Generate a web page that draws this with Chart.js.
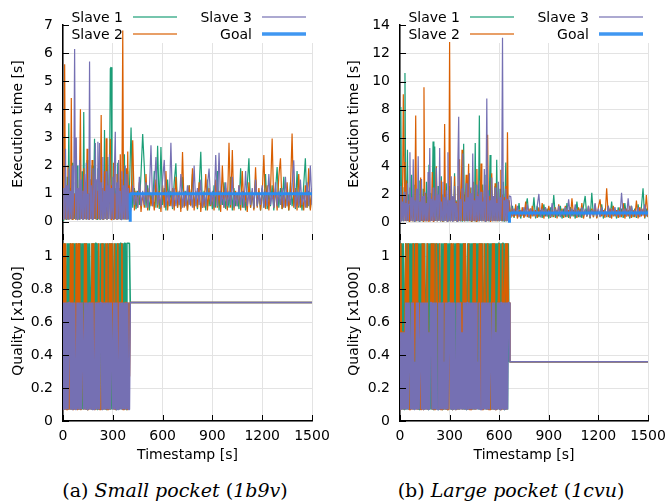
<!DOCTYPE html>
<html>
<head>
<meta charset="utf-8">
<script src="https://cdn.jsdelivr.net/npm/chart.js@4.4.1/dist/chart.umd.min.js"></script>
<style>
  body { margin: 0; background: #fff; }
  #wrap { position: relative; width: 669px; height: 502px; overflow: hidden; }
  canvas { position: absolute; }
  .cap { position: absolute; top: 478px; width: 320px; text-align: center; font-family: "DejaVu Serif", serif; font-size: 19px; color: #000; line-height: 24px; }
  .cap i { font-style: italic; }
</style>
</head>
<body>
<div id="wrap">
  <canvas id="timeA" width="335" height="240" style="left:0;top:0"></canvas>
  <canvas id="qualA" width="335" height="232" style="left:0;top:240px"></canvas>
  <canvas id="timeB" width="334" height="240" style="left:335px;top:0"></canvas>
  <canvas id="qualB" width="334" height="232" style="left:335px;top:240px"></canvas>
  <div class="cap" style="left:15px">(a) <i>Small pocket</i> (<i>1b9v</i>)</div>
  <div class="cap" style="left:351px">(b) <i>Large pocket</i> (<i>1cvu</i>)</div>
</div>
<script>
// series names (legend order: Slave 1, Slave 2, Slave 3, Goal)
const seriesNames = ["Slave 1", "Slave 2", "Slave 3", "Goal"];

// axis ticks
const xTicks = [0, 300, 600, 900, 1200, 1500];
const yTicksTimeA = [0, 1, 2, 3, 4, 5, 6, 7];
const yTicksTimeB = [0, 2, 4, 6, 8, 10, 12, 14];
const yTicksQuality = [0, 0.2, 0.4, 0.6, 0.8, 1];

// ---------- (a) small pocket ----------
const timeExploreA = [
  0, 5, 10, 15, 20, 25, 30, 35, 40, 45, 50, 55, 60, 65, 70, 75, 80, 85, 90, 95,
  100, 105, 110, 115, 120, 125, 130, 135, 140, 145, 150, 155, 160, 165, 170, 175, 180, 185, 190, 195,
  200, 205, 210, 215, 220, 225, 230, 235, 240, 245, 250, 255, 260, 265, 270, 275, 280, 285, 290, 295,
  300, 305, 310, 315, 320, 325, 330, 335, 340, 345, 350, 355, 360, 365, 370, 375, 380, 385, 390, 395,
  400
];
const timeRunA = [
  410, 420, 430, 440, 450, 460, 470, 480, 490, 500,
  510, 520, 530, 540, 550, 560, 570, 580, 590, 600,
  610, 620, 630, 640, 650, 660, 670, 680, 690, 700,
  710, 720, 730, 740, 750, 760, 770, 780, 790, 800,
  810, 820, 830, 840, 850, 860, 870, 880, 890, 900,
  910, 920, 930, 940, 950, 960, 970, 980, 990, 1000,
  1010, 1020, 1030, 1040, 1050, 1060, 1070, 1080, 1090, 1100,
  1110, 1120, 1130, 1140, 1150, 1160, 1170, 1180, 1190, 1200,
  1210, 1220, 1230, 1240, 1250, 1260, 1270, 1280, 1290, 1300,
  1310, 1320, 1330, 1340, 1350, 1360, 1370, 1380, 1390, 1400,
  1410, 1420, 1430, 1440, 1450, 1460, 1470, 1480, 1490, 1500
];

const slave1ExploreA = [
  0.05, 1.0, 0.1, 0.9, 0.06, 1.6, 0.1, 3.5, 0.08, 1.2,
  0.1, 2.1, 0.07, 1.0, 0.1, 1.4, 0.08, 2.0, 0.1, 1.1,
  0.07, 1.3, 0.1, 1.8, 0.08, 3.9, 0.1, 1.2, 0.07, 2.2,
  0.1, 1.0, 0.08, 1.5, 0.1, 2.0, 0.07, 1.2, 2.95, 0.1,
  1.3, 0.08, 1.9, 0.1, 1.1, 0.07, 1.6, 0.1, 1.2, 0.08,
  3.26, 0.1, 1.4, 0.07, 2.3, 0.1, 1.1, 5.45, 5.5, 0.1,
  1.3, 0.07, 1.7, 0.1, 1.2, 0.08, 2.1, 0.1, 1.0, 0.07,
  1.5, 0.1, 1.2, 0.08, 2.4, 0.1, 1.3, 0.07, 1.8, 0.1,
  1.1
];
const slave2ExploreA = [
  0.1, 0.9, 5.6, 0.08, 1.3, 0.1, 2.0, 0.07, 1.1, 0.1,
  4.4, 0.08, 1.5, 0.1, 1.0, 0.07, 2.3, 0.1, 1.2, 0.08,
  1.6, 4.0, 0.1, 1.1, 0.07, 1.9, 0.1, 1.3, 0.08, 2.6,
  0.1, 1.0, 0.07, 1.5, 0.1, 2.2, 0.08, 1.2, 0.1, 1.7,
  0.07, 1.1, 0.1, 2.0, 0.08, 1.3, 3.8, 0.1, 1.2, 0.07,
  1.8, 0.1, 2.97, 0.08, 1.1, 0.1, 1.6, 2.95, 0.07, 1.3,
  0.1, 2.1, 0.08, 1.0, 0.1, 1.7, 0.07, 1.2, 0.1, 2.4,
  0.08, 1.4, 6.8, 0.1, 1.1, 0.07, 1.9, 0.1, 2.5, 0.08,
  1.3
];
const slave3ExploreA = [
  0.1, 1.2, 0.08, 2.6, 0.1, 1.3, 0.06, 1.9, 0.1, 1.1,
  0.08, 2.0, 0.1, 1.4, 6.15, 0.1, 3.0, 0.07, 1.2, 0.1,
  2.2, 0.08, 1.5, 0.1, 1.1, 0.07, 1.7, 0.1, 2.1, 0.1,
  1.0, 0.06, 5.7, 0.1, 1.3, 0.08, 1.9, 0.1, 1.2, 2.8,
  0.09, 1.5, 2.85, 0.1, 2.8, 0.07, 1.4, 0.1, 2.3, 0.08,
  1.1, 0.1, 1.8, 0.07, 1.3, 0.1, 2.4, 0.08, 1.2, 0.1,
  1.6, 0.07, 2.0, 3.2, 0.1, 1.4, 0.08, 2.2, 0.1, 1.1,
  0.07, 1.8, 0.1, 1.3, 0.08, 2.0, 0.1, 1.7, 0.08, 1.2,
  0.1
];
const slave1RunA = [
  3.35, 0.5, 1.2, 0.45, 1.1, 0.6, 1.7, 3.12, 1.95, 0.5,
  1.3, 0.4, 1.0, 0.55, 1.8, 0.5, 2.7, 0.45, 2.66, 0.6,
  1.2, 0.4, 1.5, 0.55, 1.1, 0.45, 1.4, 2.08, 0.5, 1.0,
  0.45, 1.6, 0.55, 1.1, 0.4, 1.3, 0.6, 1.7, 0.5, 1.0,
  0.45, 1.2, 2.49, 0.5, 1.1, 0.4, 1.5, 0.55, 1.0, 0.45,
  1.3, 0.5, 1.8, 0.4, 1.1, 0.6, 1.4, 0.45, 1.0, 0.5,
  1.6, 0.4, 1.2, 0.55, 1.0, 0.45, 1.9, 0.5, 1.1, 0.4,
  1.3, 2.26, 0.5, 1.0, 0.45, 1.5, 0.55, 1.1, 0.4, 1.2,
  0.5, 1.7, 0.45, 1.0, 0.55, 1.3, 0.4, 1.1, 1.95, 0.5,
  1.2, 0.45, 1.6, 0.5, 1.0, 0.4, 1.4, 0.55, 1.1, 0.45,
  1.8, 0.5, 1.0, 0.4, 1.3, 2.26, 0.5, 1.1, 0.45, 1.2
];
const slave2RunA = [
  0.6, 2.9, 0.4, 1.1, 0.5, 1.4, 0.35, 1.0, 0.5, 1.7,
  0.4, 1.2, 0.55, 1.0, 0.4, 1.5, 0.5, 1.1, 0.35, 1.3,
  0.5, 1.8, 0.4, 1.0, 0.55, 1.2, 0.4, 1.6, 0.5, 1.1,
  0.35, 2.48, 0.5, 1.0, 0.4, 1.3, 0.55, 1.9, 0.4, 1.1,
  0.5, 1.4, 0.35, 1.0, 0.5, 1.7, 0.4, 1.2, 0.55, 1.0,
  0.4, 1.5, 0.5, 1.1, 0.35, 2.0, 0.5, 1.2, 0.4, 2.81,
  0.5, 2.55, 0.4, 1.1, 0.55, 1.3, 0.4, 1.8, 0.5, 1.0,
  0.35, 1.4, 0.5, 1.1, 0.4, 1.94, 0.5, 1.2, 0.4, 1.0,
  2.37, 0.45, 1.3, 0.4, 1.1, 2.96, 0.5, 1.2, 0.4, 1.6,
  2.26, 0.45, 1.0, 0.5, 1.4, 0.4, 1.1, 3.14, 0.5, 1.2,
  0.4, 1.7, 0.5, 1.0, 0.4, 1.3, 0.5, 1.9, 0.4, 1.1
];
const slave3RunA = [
  0.5, 1.3, 0.6, 1.0, 0.5, 1.6, 0.55, 1.1, 0.6, 1.4,
  0.5, 1.0, 2.72, 0.55, 1.2, 2.3, 0.6, 1.0, 0.5, 1.5,
  2.2, 0.55, 1.1, 0.6, 2.81, 0.5, 1.2, 0.55, 1.0, 0.6,
  1.7, 0.5, 1.1, 0.55, 1.3, 0.6, 1.0, 0.5, 2.0, 0.55,
  1.2, 0.6, 1.5, 0.5, 1.0, 0.55, 1.3, 1.89, 0.6, 1.1,
  0.5, 2.37, 0.55, 2.45, 0.6, 1.0, 0.5, 1.4, 0.55, 1.1,
  0.6, 1.6, 0.5, 1.0, 0.55, 1.3, 0.6, 1.1, 0.5, 1.8,
  0.55, 1.0, 0.6, 1.2, 0.5, 1.5, 0.55, 1.0, 0.6, 1.3,
  0.5, 1.1, 0.55, 1.7, 0.6, 1.0, 0.5, 1.4, 0.55, 1.1,
  0.6, 1.2, 0.5, 1.6, 0.55, 1.0, 0.6, 1.3, 2.19, 0.5,
  1.1, 0.55, 1.5, 0.6, 1.0, 0.5, 1.4, 0.55, 2.0, 0.6
];
const goalTimesA = [405, 405, 1500];
const goalA = [0, 1, 1];

const quality1A = [
  1.08, 0.07, 1.08, 0.07, 0.72, 1.08, 0.07, 1.08, 0.07, 1.08,
  0.07, 0.72, 1.08, 0.07, 1.08, 0.07, 1.08, 0.72, 0.07, 1.08,
  0.07, 1.08, 0.07, 1.08, 0.07, 0.72, 1.08, 0.07, 1.08, 0.07,
  1.08, 0.07, 1.08, 0.72, 0.07, 1.08, 0.07, 1.08, 0.07, 1.08,
  1.08, 0.07, 1.08, 0.07, 0.72, 1.08, 0.07, 1.08, 0.07, 1.08,
  0.07, 1.08, 0.07, 0.72, 1.08, 0.07, 1.08, 0.07, 1.08, 0.07,
  1.08, 0.72, 0.07, 1.08, 0.07, 1.08, 0.07, 1.08, 0.07, 1.08,
  1.08, 0.07, 1.08, 0.07, 1.08, 1.08, 0.07, 1.08, 1.08, 1.08,
  1.08
];
const quality2A = [
  0.07, 1.08, 0.07, 1.08, 0.07, 0.07, 0.72, 0.72, 0.07, 1.08,
  0.07, 1.08, 0.07, 0.07, 0.72, 0.07, 1.08, 0.07, 1.08, 0.07,
  1.08, 0.07, 0.07, 0.72, 0.72, 0.07, 1.08, 0.07, 1.08, 0.07,
  0.07, 0.07, 0.72, 0.72, 0.07, 1.08, 0.07, 1.08, 0.07, 0.07,
  0.72, 0.72, 0.07, 1.08, 0.07, 0.07, 0.07, 1.08, 0.07, 0.72,
  0.72, 0.07, 1.08, 0.07, 0.07, 0.07, 1.08, 0.07, 1.08, 0.72,
  0.72, 0.07, 1.08, 0.07, 0.07, 0.07, 1.08, 0.07, 0.72, 0.72,
  0.72, 1.08, 0.07, 0.07, 0.07, 0.72, 0.72, 0.07, 0.07, 0.72,
  0.27
];
const quality3A = [
  0.07, 0.72, 0.07, 0.72, 0.07, 0.72, 0.07, 0.72, 0.72, 0.07,
  0.72, 0.07, 0.72, 0.07, 0.72, 0.07, 0.07, 0.72, 0.07, 0.72,
  0.07, 0.72, 0.07, 0.72, 0.72, 0.07, 0.72, 0.07, 0.72, 0.07,
  0.72, 0.07, 0.72, 0.07, 0.72, 0.07, 0.72, 0.07, 0.07, 0.72,
  0.07, 0.72, 0.07, 0.72, 0.07, 0.72, 0.72, 0.07, 0.72, 0.07,
  0.72, 0.07, 0.72, 0.07, 0.72, 0.07, 0.72, 0.07, 0.72, 0.72,
  0.07, 0.72, 0.07, 0.72, 0.07, 0.72, 0.07, 0.07, 0.72, 0.07,
  0.72, 0.07, 0.72, 0.07, 0.72, 0.07, 0.72, 0.07, 0.72, 0.07,
  0.07
];
const qualityTailTimesA = [405, 1500];
const qualityTailA = [0.72, 0.72];

// ---------- (b) large pocket ----------
const timeExploreB = [
  0, 5, 10, 15, 20, 25, 30, 35, 40, 45, 50, 55, 60, 65, 70, 75, 80, 85, 90, 95,
  100, 105, 110, 115, 120, 125, 130, 135, 140, 145, 150, 155, 160, 165, 170, 175, 180, 185, 190, 195,
  200, 205, 210, 215, 220, 225, 230, 235, 240, 245, 250, 255, 260, 265, 270, 275, 280, 285, 290, 295,
  300, 305, 310, 315, 320, 325, 330, 335, 340, 345, 350, 355, 360, 365, 370, 375, 380, 385, 390, 395,
  400, 405, 410, 415, 420, 425, 430, 435, 440, 445, 450, 455, 460, 465, 470, 475, 480, 485, 490, 495,
  500, 505, 510, 515, 520, 525, 530, 535, 540, 545, 550, 555, 560, 565, 570, 575, 580, 585, 590, 595,
  600, 605, 610, 615, 620, 625, 630, 635, 640, 645, 650, 655, 660
];
const timeRunB = [
  670, 680, 690, 700, 710, 720, 730, 740, 750, 760,
  770, 780, 790, 800, 810, 820, 830, 840, 850, 860,
  870, 880, 890, 900, 910, 920, 930, 940, 950, 960,
  970, 980, 990, 1000, 1010, 1020, 1030, 1040, 1050, 1060,
  1070, 1080, 1090, 1100, 1110, 1120, 1130, 1140, 1150, 1160,
  1170, 1180, 1190, 1200, 1210, 1220, 1230, 1240, 1250, 1260,
  1270, 1280, 1290, 1300, 1310, 1320, 1330, 1340, 1350, 1360,
  1370, 1380, 1390, 1400, 1410, 1420, 1430, 1440, 1450, 1460,
  1470, 1480, 1490, 1500
];

const slave1ExploreB = [
  0.1, 8.2, 0.15, 1.8, 0.1, 2.5, 10.6, 0.12, 1.4, 5.17,
  0.1, 2.0, 0.15, 1.6, 3.4, 0.1, 1.9, 0.12, 2.7, 0.1,
  1.5, 0.15, 2.2, 0.1, 3.0, 0.12, 1.7, 0.1, 2.4, 0.15,
  1.3, 0.1, 2.9, 0.12, 1.8, 4.1, 0.1, 2.1, 0.15, 1.6,
  5.76, 0.1, 5.4, 0.12, 1.9, 0.1, 2.6, 0.15, 1.5, 0.1,
  3.3, 0.12, 2.0, 0.1, 1.7, 0.15, 2.8, 0.1, 1.4, 0.12,
  2.6, 0.1, 2.1, 0.15, 1.8, 0.1, 3.5, 0.12, 1.6, 0.1,
  2.4, 0.15, 1.9, 0.1, 2.2, 0.12, 1.5, 5.6, 0.1, 2.0,
  0.15, 1.7, 0.1, 3.1, 0.12, 1.8, 0.1, 2.5, 0.15, 1.4,
  0.1, 5.64, 0.12, 2.2, 0.1, 1.7, 7.6, 0.15, 1.9, 0.1,
  2.7, 0.12, 1.5, 0.1, 3.4, 0.15, 2.0, 0.1, 1.6, 4.8,
  0.12, 2.3, 0.1, 1.8, 0.15, 2.6, 0.1, 4.46, 0.12, 1.7,
  0.1, 2.4, 0.15, 1.6, 0.1, 2.9, 0.12, 1.8, 4.26, 0.1,
  2.1, 0.15, 1.5
];
const slave2ExploreB = [
  0.1, 1.9, 0.15, 1.4, 9.1, 4.3, 0.1, 2.2, 3.0, 0.12,
  1.6, 0.1, 2.5, 0.15, 1.3, 0.1, 2.0, 0.12, 1.7, 7.6,
  0.1, 2.3, 0.15, 1.5, 0.1, 3.2, 0.12, 1.8, 0.1, 9.6,
  0.15, 2.1, 0.1, 1.4, 0.12, 2.7, 0.1, 1.6, 0.15, 3.6,
  0.1, 1.9, 0.12, 2.4, 4.0, 0.1, 1.5, 0.15, 2.2, 0.1,
  3.0, 0.12, 1.7, 0.1, 7.0, 0.15, 2.0, 0.1, 1.6, 0.12,
  12.8, 0.1, 2.4, 0.15, 1.8, 0.1, 3.3, 0.12, 1.5, 0.1,
  2.6, 0.15, 4.5, 0.1, 1.9, 5.17, 0.12, 2.2, 0.1, 1.6,
  3.4, 0.15, 1.8, 4.17, 0.1, 2.5, 0.12, 1.4, 0.1, 2.9,
  0.15, 1.7, 0.1, 3.8, 0.12, 2.0, 0.1, 1.5, 4.2, 0.15,
  2.3, 0.1, 1.8, 0.12, 2.7, 0.1, 6.23, 0.15, 1.9, 0.1,
  2.4, 3.5, 0.12, 1.6, 0.1, 2.8, 0.15, 1.7, 0.1, 2.2,
  0.12, 1.5, 3.75, 0.1, 2.0, 0.15, 1.8, 0.1, 2.6, 0.12,
  6.4, 0.1, 1.6
];
const slave3ExploreB = [
  0.1, 2.6, 0.15, 1.5, 0.1, 2.2, 0.12, 1.4, 0.1, 2.8,
  0.15, 1.3, 5.0, 0.1, 1.8, 0.12, 4.5, 0.1, 1.6, 0.15,
  2.4, 0.1, 4.7, 0.12, 1.5, 0.1, 3.1, 0.15, 1.9, 0.1,
  2.2, 0.12, 1.4, 0.1, 3.6, 0.15, 5.3, 0.1, 1.7, 0.12,
  2.5, 0.1, 1.6, 0.15, 3.9, 0.1, 2.0, 0.12, 5.3, 0.1,
  1.5, 0.15, 2.9, 0.1, 1.8, 0.12, 2.3, 0.1, 5.0, 0.15,
  1.6, 0.1, 3.3, 0.12, 1.9, 0.1, 2.6, 0.15, 1.4, 0.1,
  4.2, 7.5, 0.12, 1.7, 0.1, 2.4, 4.9, 0.15, 1.5, 0.1,
  2.8, 0.12, 1.8, 0.1, 3.5, 0.15, 2.1, 0.1, 4.9, 0.12,
  1.6, 0.1, 2.7, 0.15, 1.9, 0.1, 3.0, 0.12, 2.2, 0.1,
  1.5, 0.15, 3.8, 0.1, 1.7, 8.8, 0.12, 2.3, 0.1, 1.6,
  0.15, 3.2, 0.1, 1.9, 0.12, 2.5, 0.1, 1.4, 0.15, 2.9,
  0.1, 1.8, 0.12, 2.1, 13.1, 0.1, 1.6, 0.15, 2.4, 0.1,
  1.7, 0.12, 1.9
];
const slave1RunB = [
  0.4, 1.2, 0.35, 1.0, 0.45, 1.4, 0.3, 0.9, 0.4, 1.1,
  1.73, 0.35, 1.0, 0.45, 1.8, 0.3, 1.2, 0.4, 0.9, 0.35,
  1.3, 0.45, 1.0, 0.3, 1.1, 0.4, 1.97, 0.35, 0.9, 0.45,
  1.2, 0.3, 1.0, 0.4, 1.4, 0.35, 1.1, 0.45, 0.9, 0.3,
  1.5, 0.4, 1.0, 0.35, 1.2, 1.9, 0.45, 1.0, 0.3, 2.13,
  0.4, 1.1, 0.35, 0.9, 0.45, 1.3, 0.3, 1.0, 0.4, 1.2,
  0.35, 1.5, 0.45, 0.9, 0.3, 1.1, 0.4, 1.0, 0.35, 1.4,
  0.45, 0.9, 0.3, 1.2, 0.4, 1.0, 0.35, 1.3, 0.45, 1.1,
  2.44, 0.3, 1.0, 0.4
];
const slave2RunB = [
  0.35, 1.0, 0.4, 1.3, 0.3, 0.9, 0.45, 1.1, 0.35, 1.5,
  0.4, 1.0, 0.3, 1.2, 0.45, 0.9, 0.35, 1.1, 0.4, 1.4,
  0.3, 1.0, 0.45, 1.2, 0.35, 0.9, 0.4, 1.1, 0.3, 1.3,
  0.45, 1.0, 0.35, 1.2, 0.4, 0.9, 0.3, 1.73, 0.45, 1.0,
  0.35, 1.1, 0.4, 1.4, 0.3, 0.9, 0.45, 1.2, 0.35, 1.0,
  0.4, 1.3, 0.3, 1.1, 1.66, 0.45, 0.9, 0.35, 2.44, 0.4,
  1.0, 0.3, 1.2, 0.45, 0.9, 0.35, 1.1, 0.4, 1.4, 0.3,
  1.0, 0.45, 1.2, 0.35, 0.9, 0.4, 1.57, 0.3, 1.1, 0.45,
  1.0, 0.35, 1.97, 0.4
];
const slave3RunB = [
  1.85, 0.45, 1.0, 0.5, 1.2, 0.4, 0.9, 0.5, 1.1, 0.45,
  1.3, 0.4, 1.0, 0.5, 0.9, 0.45, 1.2, 2.04, 0.4, 1.0,
  0.5, 1.1, 0.45, 0.9, 0.4, 1.4, 0.5, 1.0, 0.45, 1.2,
  0.4, 0.9, 0.5, 1.1, 0.45, 1.66, 0.4, 1.0, 0.5, 1.3,
  0.45, 0.9, 0.4, 1.1, 0.5, 1.0, 0.45, 1.2, 0.4, 0.9,
  0.5, 1.4, 0.45, 1.0, 0.4, 1.1, 0.5, 0.9, 0.45, 1.2,
  0.4, 1.0, 0.5, 1.1, 0.45, 0.9, 0.4, 2.13, 0.5, 1.0,
  0.45, 1.73, 0.4, 1.2, 0.5, 0.9, 0.45, 1.1, 0.4, 1.0,
  0.5, 1.3, 0.45, 0.9
];
const goalTimesB = [662, 662, 1500];
const goalB = [0, 0.7, 0.7];

const quality1B = [
  1.08, 0.36, 1.08, 0.07, 1.08, 0.07, 0.72, 1.08, 0.07, 1.08,
  0.07, 1.08, 0.07, 1.08, 0.54, 1.08, 0.07, 1.08, 0.07, 0.72,
  1.08, 0.07, 1.08, 0.07, 1.08, 0.07, 1.08, 0.36, 1.08, 0.07,
  1.08, 0.07, 0.72, 1.08, 0.07, 1.08, 0.07, 1.08, 0.07, 1.08,
  0.07, 1.08, 0.54, 1.08, 0.07, 1.08, 0.07, 1.08, 0.07, 0.72,
  1.08, 0.07, 1.08, 0.07, 1.08, 0.07, 1.08, 0.07, 1.08, 0.36,
  1.08, 0.07, 1.08, 0.07, 0.72, 1.08, 0.07, 1.08, 0.07, 1.08,
  0.07, 1.08, 0.07, 1.08, 0.54, 1.08, 0.07, 1.08, 0.07, 1.08,
  0.07, 0.72, 1.08, 0.07, 1.08, 0.07, 1.08, 0.07, 1.08, 0.07,
  1.08, 0.07, 1.08, 0.36, 1.08, 0.07, 1.08, 0.07, 1.08, 0.07,
  1.08, 0.07, 0.72, 1.08, 0.07, 1.08, 0.07, 1.08, 0.07, 1.08,
  0.07, 1.08, 0.07, 1.08, 0.07, 1.08, 0.54, 1.08, 0.07, 1.08,
  1.08, 0.07, 1.08, 0.07, 1.08, 1.08, 0.07, 1.08, 0.07, 1.08,
  0.07, 1.08, 0.36
];
const quality2B = [
  0.07, 1.08, 0.07, 0.54, 0.54, 0.07, 0.07, 1.08, 0.72, 0.72,
  1.08, 0.07, 0.07, 0.07, 0.72, 0.07, 1.08, 0.36, 0.36, 1.08,
  0.07, 1.08, 0.07, 0.72, 0.72, 0.07, 0.07, 1.08, 0.07, 1.08,
  0.72, 0.72, 0.07, 1.08, 0.07, 0.07, 0.54, 0.54, 1.08, 0.07,
  1.08, 0.07, 0.07, 0.07, 1.08, 0.72, 0.72, 0.07, 1.08, 0.07,
  0.07, 0.07, 0.72, 0.72, 1.08, 0.07, 1.08, 0.07, 0.07, 0.07,
  0.72, 0.72, 1.08, 0.07, 1.08, 0.36, 0.36, 0.07, 0.07, 1.08,
  0.07, 1.08, 0.07, 0.72, 0.72, 0.07, 0.07, 1.08, 0.07, 1.08,
  0.72, 0.72, 0.07, 1.08, 0.07, 0.07, 0.07, 0.54, 0.54, 1.08,
  0.07, 1.08, 0.07, 0.07, 0.72, 0.72, 1.08, 0.07, 1.08, 0.07,
  0.07, 0.07, 1.08, 0.72, 0.72, 0.07, 1.08, 0.07, 0.07, 0.07,
  0.72, 0.72, 1.08, 0.07, 1.08, 0.07, 0.07, 0.07, 0.72, 0.72,
  1.08, 0.07, 0.07, 0.07, 1.08, 0.07, 0.72, 0.72, 1.08, 0.07,
  1.08, 0.72, 0.72
];
const quality3B = [
  0.07, 0.54, 0.07, 0.54, 0.07, 0.54, 0.07, 0.72, 0.07, 0.72,
  0.07, 0.72, 0.72, 0.07, 0.72, 0.07, 0.72, 0.07, 0.36, 0.07,
  0.72, 0.07, 0.72, 0.07, 0.07, 0.72, 0.07, 0.72, 0.07, 0.72,
  0.07, 0.72, 0.07, 0.72, 0.07, 0.54, 0.07, 0.72, 0.72, 0.07,
  0.72, 0.07, 0.72, 0.07, 0.72, 0.07, 0.07, 0.72, 0.07, 0.72,
  0.07, 0.72, 0.07, 0.36, 0.07, 0.72, 0.07, 0.72, 0.07, 0.72,
  0.72, 0.07, 0.72, 0.07, 0.72, 0.07, 0.72, 0.07, 0.07, 0.72,
  0.07, 0.72, 0.07, 0.72, 0.07, 0.54, 0.07, 0.72, 0.07, 0.72,
  0.07, 0.72, 0.72, 0.07, 0.72, 0.07, 0.72, 0.07, 0.72, 0.07,
  0.72, 0.07, 0.72, 0.07, 0.36, 0.07, 0.72, 0.07, 0.07, 0.72,
  0.07, 0.72, 0.07, 0.72, 0.07, 0.72, 0.07, 0.72, 0.07, 0.72,
  0.72, 0.07, 0.72, 0.07, 0.72, 0.07, 0.54, 0.07, 0.72, 0.07,
  0.72, 0.07, 0.72, 0.72, 0.07, 0.72, 0.07, 0.72, 0.07, 0.72,
  0.07, 0.72, 0.72
];
const qualityTailTimesB = [665, 1500];
const qualityTailB = [0.36, 0.36];

// colours
const GREEN = "#1b9e77";
const ORANGE = "#d95f02";
const PURPLE = "#7570b3";
const BLUE = "#2b8cf0";
const GRID = "#e3e3e3";
const FONT = "DejaVu Sans";
const seriesColors = [GREEN, ORANGE, PURPLE, BLUE];

function pts(times, values) {
    return times.map((t, i) => ({ x: t, y: values[i] }));
}

function fixedTicks(values) {
    return scale => { scale.ticks = values.map(v => ({ value: v })); };
}

// legend, inward tick marks and axis titles, drawn the gnuplot way
const decor = {
    id: "decor",
    beforeDatasetsDraw(chart, args, o) {
        if (!o.legend) return;
        const { ctx, chartArea: a } = chart;
        ctx.save();
        ctx.fillStyle = "#fff";
        ctx.fillRect(a.left + 1, 0, a.right - a.left + 4, 43);
        ctx.font = `14px "${FONT}"`;
        ctx.textAlign = "right";
        ctx.textBaseline = "middle";
        // two columns: Slave 1 / Slave 2 on the left, Slave 3 / Goal on the right
        const slots = [[0, 0], [0, 1], [1, 0], [1, 1]];
        slots.forEach(([col, row], i) => {
            const textRight = a.left + (col ? 189 : 60);
            const lineStart = a.left + (col ? 199 : 70);
            const y = row ? 34 : 17;
            ctx.fillStyle = "#000";
            ctx.fillText(seriesNames[i], textRight, y + 1);
            ctx.strokeStyle = seriesColors[i];
            ctx.globalAlpha = i === 3 ? 0.9 : 0.6;
            ctx.lineWidth = i === 3 ? 3.5 : 2;
            ctx.beginPath();
            ctx.moveTo(lineStart, y);
            ctx.lineTo(lineStart + 44, y);
            ctx.stroke();
            ctx.globalAlpha = 1;
        });
        ctx.restore();
    },
    afterDatasetsDraw(chart) {
        const { ctx, chartArea: a, scales } = chart;
        ctx.save();
        ctx.strokeStyle = "#000";
        ctx.lineWidth = 1;
        ctx.beginPath();
        scales.y.ticks.forEach(t => {
            const py = Math.round(scales.y.getPixelForValue(t.value)) + 0.5;
            ctx.moveTo(a.left, py);
            ctx.lineTo(a.left + 6, py);
        });
        scales.x.ticks.forEach(t => {
            const px = Math.round(scales.x.getPixelForValue(t.value)) + 0.5;
            ctx.moveTo(px, a.bottom);
            ctx.lineTo(px, a.bottom - 6);
        });
        ctx.stroke();
        ctx.restore();
    },
    afterDraw(chart, args, o) {
        const { ctx, chartArea: a } = chart;
        ctx.save();
        ctx.fillStyle = "#000";
        ctx.font = `14px "${FONT}"`;
        ctx.textAlign = "center";
        ctx.textBaseline = "middle";
        if (o.xTitle) ctx.fillText(o.xTitle, (a.left + a.right) / 2, o.xTitleY);
        ctx.translate(o.yTitleX, o.yTitleY);
        ctx.rotate(-Math.PI / 2);
        ctx.fillText(o.yTitle, 0, 0);
        ctx.restore();
    }
};

function panel(id, p) {
    const isTime = p.kind === "time";
    const lw = isTime ? 1.2 : 1.6;
    const datasets = [];
    if (p.goal) datasets.push({ label: seriesNames[3], data: p.goal, borderColor: BLUE, borderWidth: 3, order: 0 });
    datasets.push({ label: seriesNames[2], data: p.s3, borderColor: PURPLE, borderWidth: lw, order: 1 });
    datasets.push({ label: seriesNames[1], data: p.s2, borderColor: ORANGE, borderWidth: lw, order: 2 });
    datasets.push({ label: seriesNames[0], data: p.s1, borderColor: GREEN, borderWidth: lw, order: 3 });

    const tickFont = { family: FONT, size: 14 };
    return new Chart(document.getElementById(id), {
        type: "line",
        data: { datasets },
        options: {
            responsive: false,
            animation: false,
            events: [],
            elements: {
                point: { radius: 0 },
                line: { tension: 0, borderJoinStyle: "bevel" }
            },
            layout: { padding: { left: 0, right: p.padRight, top: isTime ? 25 : 0, bottom: 0 } },
            plugins: {
                legend: { display: false },
                tooltip: { enabled: false },
                decor: {
                    legend: isTime,
                    yTitle: p.yTitle,
                    yTitleX: p.yTitleX,
                    yTitleY: isTime ? 124 : 81,
                    xTitle: isTime ? "" : "Timestamp [s]",
                    xTitleY: 215
                }
            },
            scales: {
                x: {
                    type: "linear",
                    min: 0,
                    max: 1500,
                    afterBuildTicks: fixedTicks(xTicks),
                    afterFit: s => {
                        s.height = isTime ? 0 : 51;
                        s.paddingLeft = 0; s.paddingRight = 0; s.paddingTop = 0; s.paddingBottom = 0;
                    },
                    ticks: { display: !isTime, padding: 7, color: "#000", font: tickFont, maxRotation: 0, autoSkip: false, callback: v => String(v) },
                    grid: { color: GRID, drawTicks: false },
                    border: { display: !isTime, color: "#000", width: 1.5 }
                },
                y: {
                    type: "linear",
                    min: p.yMin,
                    max: p.yMax,
                    afterBuildTicks: fixedTicks(p.yTicks),
                    afterFit: s => {
                        s.width = p.axisWidth;
                        s.paddingLeft = 0; s.paddingRight = 0; s.paddingTop = 0; s.paddingBottom = 0;
                    },
                    ticks: { padding: 10, color: "#000", font: tickFont, callback: v => String(v) },
                    grid: { color: GRID, drawTicks: false },
                    border: { color: "#000", width: 1.5 }
                }
            }
        },
        plugins: [decor]
    });
}

const timesA = timeExploreA.concat(timeRunA);
const timesB = timeExploreB.concat(timeRunB);
const qTimesA = timeExploreA.concat(qualityTailTimesA);
const qTimesB = timeExploreB.concat(qualityTailTimesB);

panel("timeA", {
    kind: "time",
    s1: pts(timesA, slave1ExploreA.concat(slave1RunA)),
    s2: pts(timesA, slave2ExploreA.concat(slave2RunA)),
    s3: pts(timesA, slave3ExploreA.concat(slave3RunA)),
    goal: pts(goalTimesA, goalA),
    yMin: -0.65, yMax: 7, yTicks: yTicksTimeA,
    axisWidth: 63, padRight: 23,
    yTitle: "Execution time [s]", yTitleX: 18
});
panel("qualA", {
    kind: "quality",
    s1: pts(qTimesA, quality1A.concat(qualityTailA)),
    s2: pts(qTimesA, quality2A.concat(qualityTailA)),
    s3: pts(qTimesA, quality3A.concat(qualityTailA)),
    yMin: 0, yMax: 1.1, yTicks: yTicksQuality,
    axisWidth: 63, padRight: 23,
    yTitle: "Quality [x1000]", yTitleX: 18
});
panel("timeB", {
    kind: "time",
    s1: pts(timesB, slave1ExploreB.concat(slave1RunB)),
    s2: pts(timesB, slave2ExploreB.concat(slave2RunB)),
    s3: pts(timesB, slave3ExploreB.concat(slave3RunB)),
    goal: pts(goalTimesB, goalB),
    yMin: -1.22, yMax: 14, yTicks: yTicksTimeB,
    axisWidth: 65, padRight: 21,
    yTitle: "Execution time [s]", yTitleX: 19
});
panel("qualB", {
    kind: "quality",
    s1: pts(qTimesB, quality1B.concat(qualityTailB)),
    s2: pts(qTimesB, quality2B.concat(qualityTailB)),
    s3: pts(qTimesB, quality3B.concat(qualityTailB)),
    yMin: 0, yMax: 1.1, yTicks: yTicksQuality,
    axisWidth: 65, padRight: 21,
    yTitle: "Quality [x1000]", yTitleX: 19
});
</script>
</body>
</html>
